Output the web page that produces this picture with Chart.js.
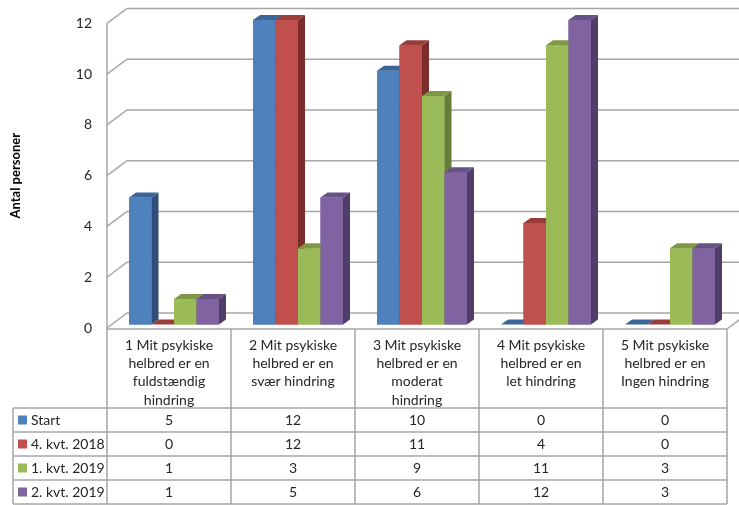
<!DOCTYPE html>
<html><head><meta charset="utf-8">
<script src="https://cdn.jsdelivr.net/npm/chart.js@4/dist/chart.umd.min.js"></script>
<style>html,body{margin:0;padding:0;background:#fff;}canvas{display:block}</style>
</head><body>
<canvas id="c" width="739" height="505"></canvas>
<script>
const categories = [
  ["1 Mit psykiske","helbred er en","fuldstændig","hindring"],
  ["2 Mit psykiske","helbred er en","svær hindring"],
  ["3 Mit psykiske","helbred er en","moderat","hindring"],
  ["4 Mit psykiske","helbred er en","let hindring"],
  ["5 Mit psykiske","helbred er en","Ingen hindring"]
];
const seriesNames = ["Start","4. kvt. 2018","1. kvt. 2019","2. kvt. 2019"];
const startValues = [5,12,10,0,0];
const kvt4_2018 = [0,12,11,4,0];
const kvt1_2019 = [1,3,9,11,3];
const kvt2_2019 = [1,5,6,12,3];
const yTicks = [0,2,4,6,8,10,12];
const yTitle = "Antal personer";

const frontColors = ["#4F81BD","#C0504D","#9BBB59","#8064A2"];
const sideColors  = ["#2F4F7A","#7A2D2B","#667D3A","#4F3D6A"];
const topColors   = ["#3D6698","#9A3C39","#7E9846","#665284"];

const FONT = "Lato, 'Liberation Sans', sans-serif";
const DX = 7, DY = 5;        // bar depth
const OX = 5, OY = -3.5;     // bar offset into the 3D box
const WX = 20, WY = -15;     // wall depth

const threeD = {
  id: 'threeD',
  beforeDatasetsDraw(chart) {
    const {ctx, chartArea: a, scales: {y}} = chart;
    ctx.save();
    ctx.strokeStyle = '#a6a6a6';
    ctx.lineWidth = 1.5;
    ctx.beginPath();
    ctx.moveTo(a.left, y.getPixelForValue(yTicks[yTicks.length-1]));
    ctx.lineTo(a.left, a.bottom + 1);
    yTicks.forEach(v => {
      const yy = y.getPixelForValue(v);
      ctx.moveTo(a.left, yy);
      ctx.lineTo(a.left + WX, yy + WY);
      ctx.lineTo(chart.width, yy + WY);
    });
    ctx.moveTo(a.left, a.bottom + 1);
    ctx.lineTo(a.right, a.bottom + 1);
    ctx.lineTo(a.right + WX, a.bottom + 1 + WY);
    ctx.stroke();
    ctx.restore();
  },
  beforeDatasetDraw(chart) {
    chart.ctx.save();
    chart.ctx.translate(OX, OY);
  },
  afterDatasetDraw(chart) {
    chart.ctx.restore();
  },
  afterDatasetsDraw(chart) {
    const ctx = chart.ctx;
    ctx.save();
    ctx.translate(OX, OY);
    chart.data.datasets.forEach((ds, i) => {
      const meta = chart.getDatasetMeta(i);
      meta.data.forEach(bar => {
        const p = bar.getProps(['x','y','base','width'], true);
        const l = p.x - p.width/2, r = p.x + p.width/2;
        ctx.fillStyle = frontColors[i];
        ctx.fillRect(l, p.y, p.width, p.base - p.y);
        ctx.fillStyle = sideColors[i];
        ctx.beginPath();
        ctx.moveTo(r, p.y); ctx.lineTo(r + DX, p.y - DY);
        ctx.lineTo(r + DX, p.base - DY); ctx.lineTo(r, p.base);
        ctx.closePath(); ctx.fill();
        ctx.fillStyle = topColors[i];
        ctx.beginPath();
        ctx.moveTo(l, p.y); ctx.lineTo(l + DX, p.y - DY);
        ctx.lineTo(r + DX, p.y - DY); ctx.lineTo(r, p.y);
        ctx.closePath(); ctx.fill();
      });
    });
    ctx.restore();
  },
  afterDraw(chart) {
    const {ctx, chartArea: a, scales: {x}} = chart;
    const step = (a.right - a.left) / categories.length;
    const top = a.bottom + 1, headBottom = 408, rowH = 24;
    const rows = [startValues, kvt4_2018, kvt1_2019, kvt2_2019];
    const legendLeft = 13;
    const bottom = headBottom + rowH * rows.length;
    ctx.save();
    ctx.strokeStyle = '#a6a6a6';
    ctx.lineWidth = 1.5;
    ctx.beginPath();
    for (let k = 0; k <= categories.length; k++) {
      const xx = a.left + k * step;
      ctx.moveTo(xx, top); ctx.lineTo(xx, bottom);
    }
    ctx.moveTo(legendLeft, headBottom); ctx.lineTo(legendLeft, bottom);
    for (let r = 0; r <= rows.length; r++) {
      const yy = headBottom + r * rowH;
      ctx.moveTo(legendLeft, yy); ctx.lineTo(a.right, yy);
    }
    ctx.stroke();
    ctx.fillStyle = '#262626';
    ctx.font = "14px " + FONT;
    ctx.textAlign = 'center';
    ctx.textBaseline = 'middle';
    categories.forEach((lines, c) => {
      const cx = x.getPixelForValue(c);
      lines.forEach((t, j) => ctx.fillText(t, cx, 345 + j * 18.4));
    });
    rows.forEach((vals, r) => {
      const cy = headBottom + r * rowH + rowH/2;
      vals.forEach((v, c) => {
        ctx.fillStyle = '#262626';
        ctx.textAlign = 'center';
        ctx.fillText(String(v), x.getPixelForValue(c), cy);
      });
      ctx.fillStyle = frontColors[r];
      ctx.fillRect(18, cy - 4.5, 9, 9);
      ctx.fillStyle = '#262626';
      ctx.textAlign = 'left';
      ctx.fillText(seriesNames[r], 31, cy);
    });
    ctx.restore();
  }
};

const allSeries = [startValues, kvt4_2018, kvt1_2019, kvt2_2019];
new Chart(document.getElementById('c'), {
  type: 'bar',
  data: {
    labels: categories,
    datasets: allSeries.map((d, i) => ({
      label: seriesNames[i],
      data: d,
      backgroundColor: frontColors[i],
      borderWidth: 0,
      barPercentage: 1,
      categoryPercentage: 90/124,
      clip: false
    }))
  },
  options: {
    responsive: false,
    animation: false,
    events: [],
    layout: { padding: { top: 22, bottom: 177, left: 0, right: 12 } },
    plugins: { legend: { display: false }, tooltip: { enabled: false } },
    scales: {
      x: { display: false },
      y: {
        min: 0, max: 12,
        afterFit(s) { s.width = 107; },
        afterBuildTicks(s) { s.ticks = yTicks.map(v => ({value: v})); },
        grid: { display: false, drawTicks: false, tickLength: 0 },
        border: { display: false },
        ticks: { padding: 15, color: '#262626', font: { family: FONT, size: 14 } },
        title: { display: true, text: yTitle, color: '#000', padding: { top: 8, bottom: 0 },
                 font: { family: FONT, size: 13, weight: 'bold' } }
      }
    }
  },
  plugins: [threeD]
});
</script>
</body></html>
